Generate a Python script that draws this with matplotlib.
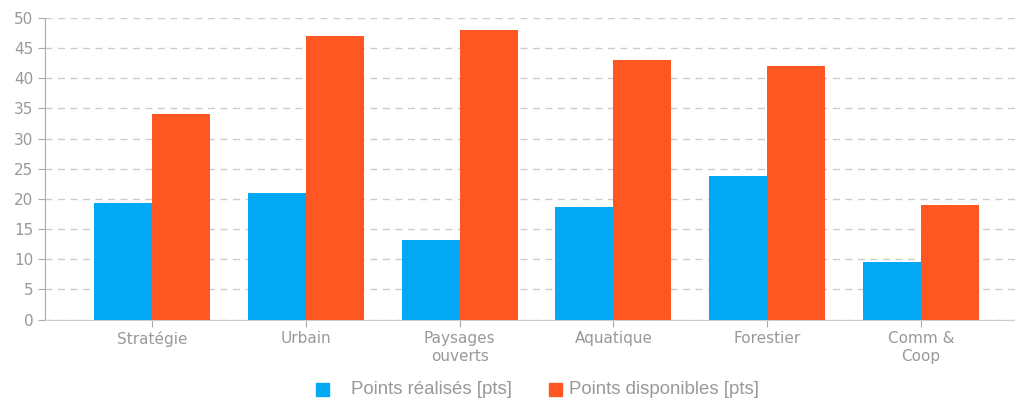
import matplotlib.pyplot as plt
import numpy as np
from matplotlib.patches import Rectangle

categories = ["Stratégie", "Urbain", "Paysages\nouverts", "Aquatique", "Forestier", "Comm &\nCoop"]
realises = [19.3, 21.0, 13.2, 18.7, 23.8, 9.5]
disponibles = [34, 47, 48, 43, 42, 19]
legend_labels = ['Points réalisés [pts]', 'Points disponibles [pts]']

blue = '#03A9F4'
orange = '#FF5722'
grey = '#999999'

W, H = 1015, 403
fig = plt.figure(figsize=(W/100, H/100), dpi=100)
ax = fig.add_axes([45/W, 1 - 319.5/H, 970/W, 301.5/H])

x = np.arange(len(categories))
w = 0.377
ax.bar(x - w/2, realises, w, color=blue, zorder=3)
ax.bar(x + w/2, disponibles, w, color=orange, zorder=3)

ax.set_ylim(0, 50)
ax.set_xlim(-0.695, 5.61)
ax.set_yticks(range(0, 51, 5))
ax.set_xticks(x)
ax.set_xticklabels(categories, linespacing=1.2)
ax.grid(axis='y', color='#cccccc', linestyle=(0, (5, 4)), linewidth=1, zorder=0)

for s in ['top', 'right']:
    ax.spines[s].set_visible(False)
ax.spines['left'].set_color('#aaaaaa')
ax.spines['bottom'].set_color('#cccccc')
ax.tick_params(axis='both', colors='#aaaaaa', labelcolor=grey, labelsize=11, length=5)

# legend drawn by hand (uneven spacing in the original)
for col, lab, mx, tx in [(blue, legend_labels[0], 316, 351), (orange, legend_labels[1], 549, 569)]:
    fig.patches.append(Rectangle((mx/W, 1 - 396/H), 13/W, 13/H, color=col,
                                 transform=fig.transFigure, figure=fig))
    fig.text(tx/W, 1 - 390/H, lab, va='center', ha='left', color=grey,
             family='Liberation Sans', fontsize=13.4)

fig.savefig('out.png', dpi=100)
